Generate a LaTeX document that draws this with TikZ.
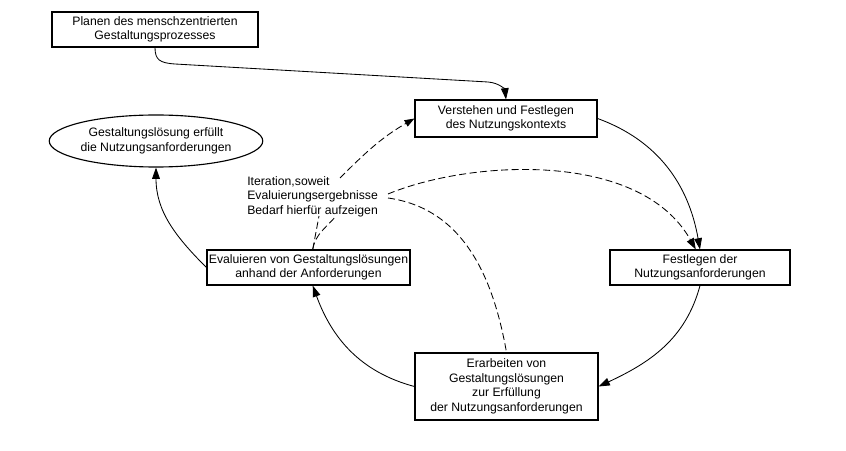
\documentclass[tikz,border=0pt]{standalone}
\usepackage{fontspec}
\setmainfont{Liberation Sans}
\usetikzlibrary{arrows.meta,shapes.geometric}

\begin{document}
\begin{tikzpicture}[x=0.025cm,y=-0.025cm,
    font=\fontsize{8.7}{10.4}\selectfont,
    stepbox/.style={draw,line width=0.8pt,inner sep=0pt,align=center,minimum height=0.875cm},
    flow/.style={-{Triangle[length=8pt,width=5.5pt]},line width=0.6pt},
    iterflow/.style={line width=0.6pt,dash pattern=on 5pt off 2.5pt}]
    \useasboundingbox (0,0) rectangle (846,451);
    \node [stepbox,minimum width=5.15cm] (plan) at (155,29.5){Planen des menschzentrierten\\Gestaltungsprozesses};
    \node [stepbox,minimum width=4.55cm,minimum height=0.925cm] (kontext) at (506,118.5){Verstehen und Festlegen\\des Nutzungskontexts};
    \node [draw,ellipse,line width=0.8pt,inner sep=0pt,align=center,minimum width=5.2cm,minimum height=1.3cm] (ziel) at (156,141){Gestaltungslösung erfüllt\\die Nutzungsanforderungen};
    \node [stepbox,minimum width=5.075cm] (eval) at (308.5,267.5){Evaluieren von Gestaltungslösungen\\anhand der Anforderungen};
    \node [stepbox,minimum width=4.5cm] (anf) at (700,267.5){Festlegen der\\Nutzungsanforderungen};
    \node [stepbox,minimum width=4.575cm,minimum height=1.675cm] (loes) at (506.5,386.5){Erarbeiten von\\Gestaltungslösungen\\zur Erfüllung\\der Nutzungsanforderungen};
    \node [anchor=west,align=left,inner sep=0pt] (iter) at (247,196.5){Iteration,soweit\\Evaluierungsergebnisse\\Bedarf hierfür aufzeigen};

    \coordinate (i1) at (319,216);
    \coordinate (i2) at (336,216);
    \coordinate (i3) at (340,178);
    \coordinate (i4) at (388,194);
    \coordinate (i5) at (388,198);

    \draw [flow] (plan.south) .. controls (155,60) and (160,63) .. (175,64) -- (488,82) .. controls (500,83) and (505,90) .. (kontext.north);
    \draw [flow] (kontext.east) to[out=-20,in=100] (anf.north);
    \draw [flow] (anf.south) to[out=-105,in=25] (loes.east);
    \draw [flow] (loes.west) to[out=165,in=-70] ([xshift=3]eval.south);
    \draw [flow] (eval.west) to[out=135,in=-90] (ziel.south);

    \draw [iterflow] ([xshift=3]eval.north) -- (i1);
    \draw [iterflow] ([xshift=3]eval.north) to[out=80,in=-130] (i2);
    \draw [iterflow,-{Triangle[length=7pt,width=5pt]}] (i3) to[out=45,in=-150] (kontext.west);
    \draw [iterflow,-{Triangle[length=8pt,width=5.5pt]}] (i4) .. controls (470,160) and (640,150) .. ([xshift=-3]anf.north);
    \draw [iterflow] (i5) to[out=-8,in=100] (loes.north);
\end{tikzpicture}
\end{document}
